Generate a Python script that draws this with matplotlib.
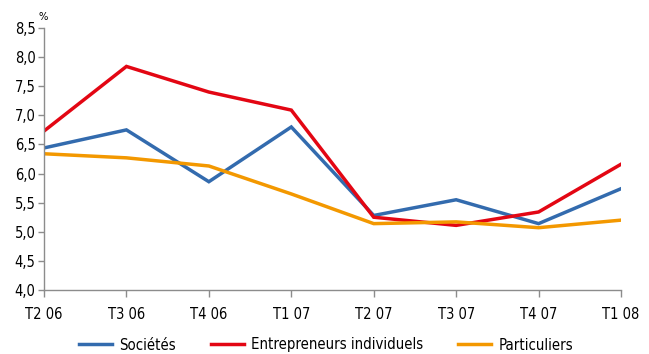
import matplotlib
matplotlib.use("Agg")
import matplotlib.pyplot as plt

trimestres = ["T2 06", "T3 06", "T4 06", "T1 07", "T2 07", "T3 07", "T4 07", "T1 08"]
societes = [6.44, 6.75, 5.86, 6.80, 5.28, 5.55, 5.14, 5.74]
entrepreneurs = [6.73, 7.84, 7.40, 7.09, 5.25, 5.11, 5.34, 6.16]
particuliers = [6.34, 6.27, 6.13, 5.65, 5.14, 5.17, 5.07, 5.20]
yticks = [4.0, 4.5, 5.0, 5.5, 6.0, 6.5, 7.0, 7.5, 8.0, 8.5]

plt.rcParams['font.family'] = ['DejaVu Sans']
plt.rcParams['font.stretch'] = 'condensed'

fig = plt.figure(figsize=(6.49, 3.54), dpi=100)
ax = fig.add_axes([44/649, 64/354, 577/649, 262/354])

x = range(len(trimestres))
ax.plot(x, societes, color='#336bae', lw=2.5, label='Sociétés', solid_joinstyle='miter')
ax.plot(x, entrepreneurs, color='#e30613', lw=2.5, label='Entrepreneurs individuels', solid_joinstyle='miter')
ax.plot(x, particuliers, color='#f39800', lw=2.5, label='Particuliers', solid_joinstyle='miter')

ax.set_xlim(0, len(trimestres) - 1)
ax.set_ylim(4.0, 8.5)
ax.set_xticks(list(x))
ax.set_xticklabels(trimestres)
ax.set_yticks(yticks)
ax.set_yticklabels([("%.1f" % v).replace('.', ',') for v in yticks])

for s in ['top', 'right']:
    ax.spines[s].set_visible(False)
for s in ['left', 'bottom']:
    ax.spines[s].set_color('#8c8c8c')
    ax.spines[s].set_linewidth(1.0)
ax.tick_params(axis='y', length=4, width=1, color='#8c8c8c', labelsize=10.5, pad=2)
ax.tick_params(axis='x', length=5, width=1, color='#8c8c8c', labelsize=10.5, pad=7)
for t in ax.get_xticklabels() + ax.get_yticklabels():
    t.set_clip_on(False)

# unité en haut de l'axe
fig.text(43/649, 1 - 17/354, '%', fontsize=8, ha='center', va='center')

fig.legend(loc='center', bbox_to_anchor=(326/649, 1 - 345/354), ncol=3, frameon=False,
           fontsize=10.7, handlelength=2.2, columnspacing=2.35, handletextpad=0.5)

fig.savefig('out.png', dpi=100)
